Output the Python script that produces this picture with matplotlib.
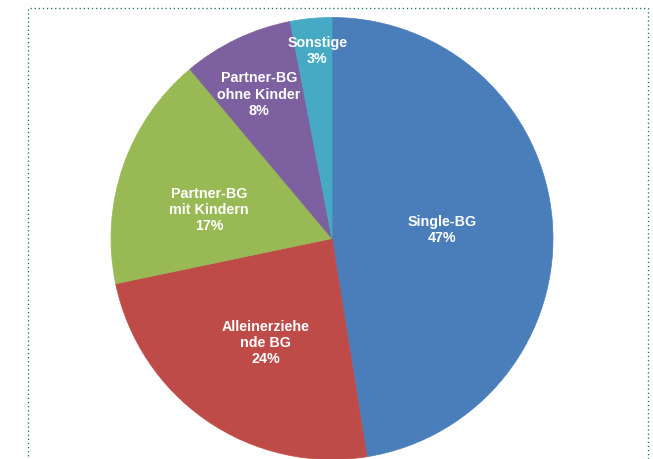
import numpy as np
import matplotlib
matplotlib.use("Agg")
import matplotlib.pyplot as plt
from matplotlib.lines import Line2D

# Bedarfsgemeinschaften nach Typ (Anteile in %)
categories = ["Single-BG", "Alleinerziehe\nnde BG", "Partner-BG\nmit Kindern",
              "Partner-BG\nohne Kinder", "Sonstige"]
shares = [47, 24, 17, 8, 3]
colors = ["#4a7ebb", "#be4b48", "#98b954", "#7d60a0", "#46aac5"]
# radial position of each label as a fraction of the radius
label_radius = [0.50, 0.56, 0.57, 0.73, 0.85]
label_shift = [0.0, 2.0, 6.0, 1.5, -1.0]  # angular nudge in degrees

W, H, DPI = 653, 459, 100
fig = plt.figure(figsize=(W / DPI, H / DPI), dpi=DPI)
fig.patch.set_facecolor("white")

cx, cy, R = 332.0, 238.5, 221.0  # pie centre and radius in pixels
ax = fig.add_axes([0, 0, 1, 1])
wedges, _ = ax.pie(shares, colors=colors, startangle=90, counterclock=False,
                   radius=1.0, center=(0, 0),
                   wedgeprops=dict(linewidth=0.5))
for w in wedges:
    w.set_edgecolor(w.get_facecolor())
ax.set_aspect("auto")
ax.set_xlim(-cx / R, (W - cx) / R)
ax.set_ylim(-(H - cy) / R, cy / R)
ax.axis("off")

for w, lab, v, rf, sh in zip(wedges, categories, shares, label_radius, label_shift):
    mid = np.deg2rad((w.theta1 + w.theta2) / 2 + sh)
    ax.text(rf * np.cos(mid), rf * np.sin(mid), f"{lab}\n{v}%",
            ha="center", va="center", color="white", fontsize=10.3,
            fontweight="bold", family=["Liberation Sans", "DejaVu Sans"],
            linespacing=1.2)

# dotted frame around the chart
def px(x, y):
    return x / W, 1 - y / H

frame_pts = [px(28, 470), px(28, 8), px(648, 8), px(648, 470)]
xs, ys = zip(*frame_pts)
fig.add_artist(Line2D(xs, ys, transform=fig.transFigure, color="#1b7a5e",
                      linewidth=0.95, linestyle=(0, (1, 2.1)),
                      dash_capstyle="butt"))

fig.savefig("out.png", dpi=DPI)
